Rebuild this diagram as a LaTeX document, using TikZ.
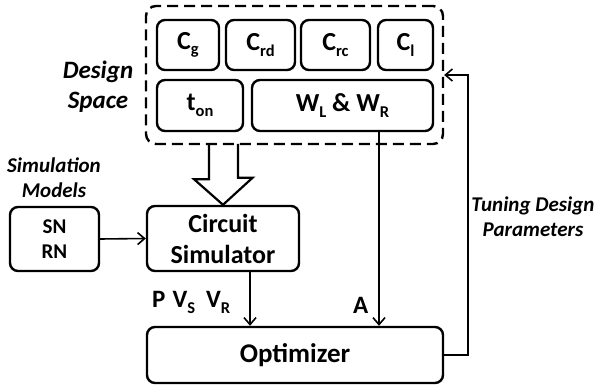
\documentclass[tikz,border=0pt]{standalone}
\usepackage{fontspec}
\setmainfont{Carlito}
\usetikzlibrary{arrows.meta,calc}

% lowered, smaller index for parameter names
\newcommand\idx[1]{\raisebox{-0.45ex}{\fontsize{16.5}{16.5}\selectfont #1}}

\begin{document}
\begin{tikzpicture}[x=1pt,y=-1pt,
  box/.style={draw,line width=2.4pt,rounded corners=8pt,inner sep=0pt,
    font=\fontsize{26}{31}\selectfont\bfseries,align=center},
  param/.style={box,minimum height=50pt},
  label/.style={font=\fontsize{21}{25}\selectfont\bfseries\itshape,align=center,inner sep=0pt},
  sig/.style={font=\fontsize{25}{28}\selectfont\bfseries,inner sep=0pt,anchor=base west},
  arr/.style={line width=1.6pt,-{Straight Barb[length=7pt,width=12pt,line width=1.6pt]}}]
\useasboundingbox (0,0) rectangle (595,387);

% design space
\node[draw,line width=2.4pt,dash pattern=on 11pt off 6pt,rounded corners=10pt,
  minimum width=297pt,minimum height=138pt] (ds) at (294.5,75) {};
\node[param,minimum width=62pt] (cg)  at (188,45)   {C\idx{g}};
\node[param,minimum width=69pt] (crd) at (260.5,45) {C\idx{rd}};
\node[param,minimum width=69pt] (crc) at (335.5,45) {C\idx{rc}};
\node[param,minimum width=55pt] (cl)  at (405.5,45) {C\idx{l}};
\node[param,minimum width=86pt,minimum height=51pt]  (ton) at (200,105.5) {t\idx{on}};
\node[param,minimum width=181pt,minimum height=51pt] (w)   at (342.5,105.5) {W\idx{L} \& W\idx{R}};
\node[label,font=\fontsize{25}{30}\selectfont\bfseries\itshape] (dsl) at (98,87) {Design\\Space};

% blocks
\node[box,minimum width=152pt,minimum height=65pt] (cs) at (223,238.5) {Circuit\\Simulator};
\node[box,minimum width=89pt,minimum height=64pt,font=\fontsize{21}{25}\selectfont\bfseries] (sn) at (54.5,239) {SN\\RN};
\node[box,minimum width=296pt,minimum height=56pt,font=\fontsize{27}{31}\selectfont\bfseries] (opt) at (295,355) {Optimizer};
\node[label] (sml) at (54,178) {Simulation\\Models};
\node[label] (tdl) at (533,217) {Tuning Design\\Parameters};

% hollow arrow from the design space into the simulator
\draw[line width=2.2pt,line join=miter]
  ($(ds.south -| cs.north)+(-14,0)$) -- ++(0,34) -- ++(-15,0)
  -- (cs.north) -- ++(29.5,-27) -- ++(-14.5,0) -- ++(0,-34);

% connectors
\draw[arr] (sn.east) -- (cs.west);
\coordinate (px) at (250,0);
\coordinate (ax) at (379,0);
\draw[arr] (cs.south -| px) -- (opt.north -| px);
\draw[arr] (w.south -| ax) -- (opt.north -| ax);
\draw[arr] (opt.east) -- ++(24,0) |- (ds.east);

% signal names
\node[sig] (sp) at (152,308) {P\hspace{7pt}V\idx{S}\hspace{11pt}V\idx{R}};
\node[sig] (sa) at (353,314) {A};
\end{tikzpicture}
\end{document}
